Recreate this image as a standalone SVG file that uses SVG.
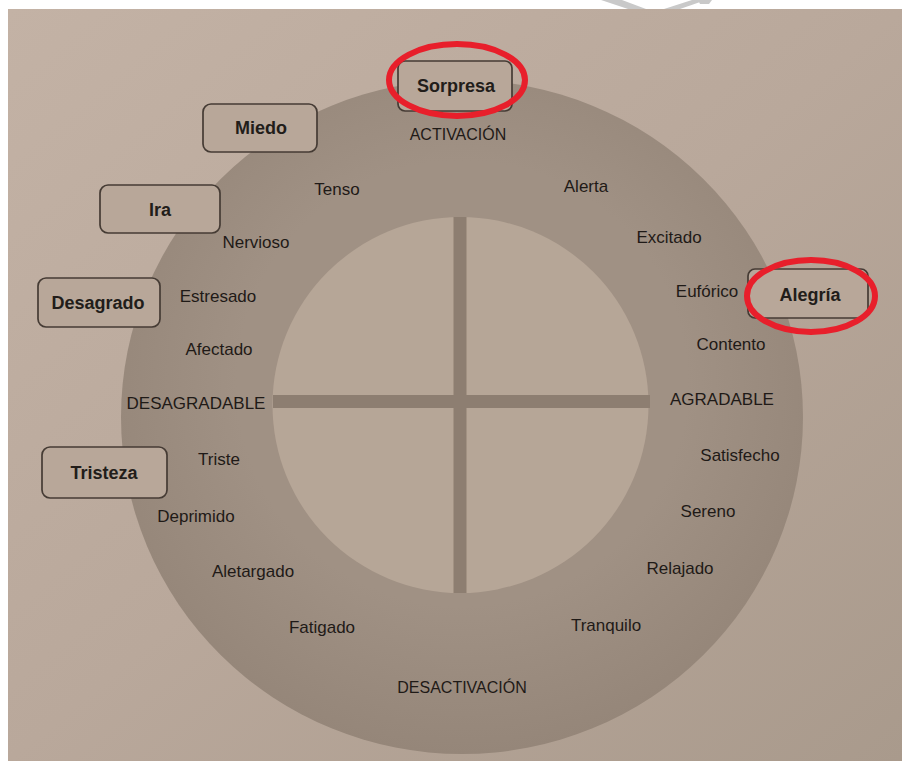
<svg xmlns="http://www.w3.org/2000/svg" width="902" height="761" viewBox="0 0 902 761">
<defs>
<linearGradient id="page" x1="0" y1="0" x2="1" y2="1">
<stop offset="0" stop-color="#c3b2a5"/>
<stop offset="0.5" stop-color="#b9a89b"/>
<stop offset="1" stop-color="#a99a8c"/>
</linearGradient>
<radialGradient id="ring" cx="0.5" cy="0.45" r="0.55">
<stop offset="0.6" stop-color="#a09184"/>
<stop offset="1" stop-color="#958679"/>
</radialGradient>
<style>
.lbl{font-family:"Liberation Sans",Arial,sans-serif;font-size:17px;fill:#1f1a17;text-anchor:middle}
.cap{font-family:"Liberation Sans",Arial,sans-serif;font-size:16px;fill:#1f1a17;text-anchor:middle}
.box rect{fill:#b8a799;stroke:#453b34;stroke-width:1.7}
.box text{font-family:"Liberation Sans",Arial,sans-serif;font-size:18px;font-weight:bold;fill:#221d1a;text-anchor:middle}
.mark{fill:none;stroke:#e81f2b;stroke-width:6}
.bar{stroke:#8d7e71;stroke-width:13}
</style>
</defs>
<rect x="0" y="0" width="902" height="761" fill="#ffffff"/>
<rect x="8" y="9" width="894" height="752" fill="url(#page)"/>
<g id="watermark" fill="#c9c9c9">
<polygon points="601,0 622,0 646,9 628,9"/>
<polygon points="692,0 706,0 680,9 664,9"/>
<polygon points="698,0 712,0 709,4 700,4"/>
</g>
<g id="ring-diagram">
<ellipse cx="462" cy="417" rx="341" ry="337" fill="url(#ring)"/>
<circle cx="460.5" cy="405" r="188" fill="#b6a697"/>
</g>
<g id="axes">
<line class="bar" x1="460" y1="217" x2="460" y2="593"/>
<line class="bar" x1="273" y1="401.5" x2="650" y2="401.5"/>
</g>
<g id="labels">
<text class="cap" x="458" y="140">ACTIVACIÓN</text>
<text class="cap" x="462" y="693">DESACTIVACIÓN</text>
<text class="lbl" x="196" y="409">DESAGRADABLE</text>
<text class="lbl" x="722" y="405">AGRADABLE</text>
<text class="lbl" x="337" y="195">Tenso</text>
<text class="lbl" x="586" y="192">Alerta</text>
<text class="lbl" x="256" y="248">Nervioso</text>
<text class="lbl" x="669" y="243">Excitado</text>
<text class="lbl" x="218" y="302">Estresado</text>
<text class="lbl" x="707" y="297">Eufórico</text>
<text class="lbl" x="219" y="355">Afectado</text>
<text class="lbl" x="731" y="350">Contento</text>
<text class="lbl" x="219" y="465">Triste</text>
<text class="lbl" x="740" y="461">Satisfecho</text>
<text class="lbl" x="196" y="522">Deprimido</text>
<text class="lbl" x="708" y="517">Sereno</text>
<text class="lbl" x="253" y="577">Aletargado</text>
<text class="lbl" x="680" y="574">Relajado</text>
<text class="lbl" x="322" y="633">Fatigado</text>
<text class="lbl" x="606" y="631">Tranquilo</text>
</g>
<g id="node-sorpresa" class="box">
<rect x="398" y="61" width="114" height="50" rx="7"/>
<text x="456" y="92">Sorpresa</text>
<ellipse class="mark" cx="457" cy="80" rx="68" ry="36"/>
</g>
<g id="node-alegria" class="box">
<rect x="748" y="269" width="120" height="49" rx="7"/>
<text x="810" y="301">Alegría</text>
<ellipse class="mark" cx="811" cy="296" rx="64" ry="36"/>
</g>
<g id="node-miedo" class="box">
<rect x="203" y="104" width="114" height="48" rx="8"/>
<text x="261" y="134">Miedo</text>
</g>
<g id="node-ira" class="box">
<rect x="100" y="185" width="120" height="48" rx="8"/>
<text x="160" y="216">Ira</text>
</g>
<g id="node-desagrado" class="box">
<rect x="38" y="278" width="122" height="49" rx="8"/>
<text x="98" y="309">Desagrado</text>
</g>
<g id="node-tristeza" class="box">
<rect x="42" y="447" width="125" height="51" rx="8"/>
<text x="104" y="479">Tristeza</text>
</g>
</svg>
